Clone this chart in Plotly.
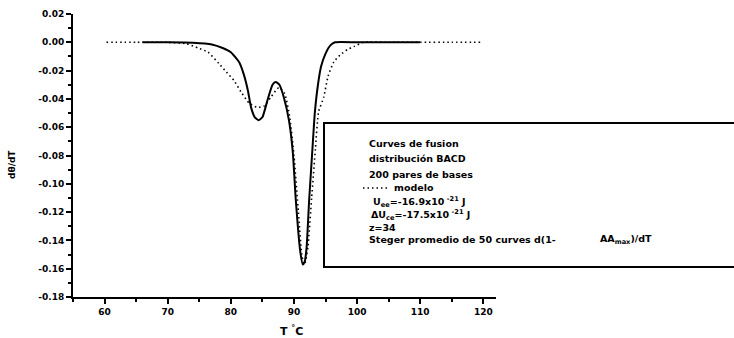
import plotly.graph_objects as go

# ---- data ----
t_steger = [66, 70, 74, 77, 78.7, 80, 81.3, 82, 82.7, 83.2, 83.8, 84.4, 85.0, 85.8, 86.6, 87.1, 87.7,
            88.4, 89.2, 89.8, 90.3, 91.0, 91.4, 91.7, 92.0, 92.4, 92.9, 93.3, 93.8, 94.3, 95.0, 95.8,
            96.5, 100, 105, 110]
v_steger = [0, 0, -0.0003, -0.0015, -0.004, -0.007, -0.014, -0.022, -0.034, -0.046, -0.053, -0.055,
            -0.053, -0.041, -0.030, -0.028, -0.030, -0.039, -0.055, -0.077, -0.112, -0.148, -0.157,
            -0.155, -0.145, -0.112, -0.077, -0.050, -0.030, -0.017, -0.008, -0.002, 0, 0, 0, 0]

t_modelo = [60.3, 65, 70, 73, 74.8, 76.4, 78.1, 79.3, 80.5, 81.6, 82.9, 84.2, 85.3, 86.3, 87.6, 88.5,
            89.3, 90.0, 90.7, 91.3, 91.7, 92.2, 92.8, 93.4, 93.9, 94.7, 95.4, 96.3, 97.3, 98.5, 99.5,
            101, 105, 110, 115, 119.6]
v_modelo = [0, 0, 0, -0.001, -0.004, -0.007, -0.015, -0.021, -0.027, -0.035, -0.043, -0.046, -0.045,
            -0.039, -0.032, -0.036, -0.052, -0.080, -0.120, -0.152, -0.157, -0.145, -0.110, -0.075,
            -0.049, -0.039, -0.024, -0.014, -0.009, -0.005, -0.003, 0, 0, 0, 0, 0]

x_ticks = [60, 70, 80, 90, 100, 110, 120]
x_ticklabels = ["60", "70", "80", "90", "100", "110", "120"]
y_ticks = [0.02, 0.00, -0.02, -0.04, -0.06, -0.08, -0.10, -0.12, -0.14, -0.16, -0.18]
y_ticklabels = ["0.02", "0.00", "-0.02", "-0.04", "-0.06", "-0.08", "-0.10", "-0.12", "-0.14",
                "-0.16", "-0.18"]

legend_lines = ["Curves de fusion", "distribución BACD", "200 pares de bases"]
legend_modelo = "modelo"
param_lines = ["U<sub>ee</sub>=-16.9x10<sup> -21</sup> J",
               "ΔU<sub>ce</sub>=-17.5x10<sup> -21</sup> J",
               "z=34"]
steger_text_a = "Steger promedio de 50 curves d(1-"
steger_text_b = "AA<sub>max</sub>)/dT"

# ---- layout geometry (pixels) ----
W, H = 734, 338
L, R, T, B = 73, 238, 14, 41
PW, PH = W - L - R, H - T - B


def px(x):
    return (x - L) / PW


def py(y):
    return (H - B - y) / PH


FONT = "DejaVu Sans"

fig = go.Figure()
fig.add_trace(go.Scatter(x=t_modelo, y=v_modelo, mode="lines",
                         line=dict(color="black", width=1.6, dash="1.5px,3px", shape="spline",
                                   smoothing=0.5),
                         showlegend=False, hoverinfo="skip"))
fig.add_trace(go.Scatter(x=t_steger, y=v_steger, mode="lines",
                         line=dict(color="black", width=2, shape="spline", smoothing=0.5),
                         showlegend=False, hoverinfo="skip"))

tickfont = dict(family=FONT, size=9, color="black", weight="bold")
fig.update_xaxes(range=[55, 122], tickvals=x_ticks, ticktext=x_ticklabels, showgrid=False,
                 zeroline=False, showline=True, linecolor="black", linewidth=2,
                 ticks="outside", ticklen=5, tickwidth=2, tickcolor="black", tickfont=tickfont,
                 minor=dict(dtick=5, ticks="outside", ticklen=3, tickwidth=1.5, tickcolor="black"))
fig.update_yaxes(range=[-0.18, 0.02], tickvals=y_ticks, ticktext=y_ticklabels, showgrid=False,
                 zeroline=False, showline=True, linecolor="black", linewidth=2,
                 ticks="outside", ticklen=5, tickwidth=2, tickcolor="black", tickfont=tickfont,
                 minor=dict(dtick=0.01, tick0=0, ticks="outside", ticklen=3, tickwidth=1.5,
                            tickcolor="black"))

shapes = [
    dict(type="rect", xref="paper", yref="paper", x0=px(324), x1=px(760), y0=py(267), y1=py(123),
         line=dict(color="black", width=2), fillcolor="rgba(0,0,0,0)"),
    dict(type="line", xref="paper", yref="paper", x0=px(363), x1=px(390), y0=py(188), y1=py(188),
         line=dict(color="black", width=1.4, dash="1.5px,3px")),
]

ann_font = dict(family=FONT, size=9.5, color="black", weight="bold")
annotations = []
for i, s in enumerate(legend_lines):
    annotations.append(dict(text=s, x=px(367), y=py(143 + i * 15.5)))
annotations.append(dict(text=legend_modelo, x=px(392), y=py(188)))
for s, xx, yy in zip(param_lines, [371, 369, 367], [202, 215, 227]):
    annotations.append(dict(text=s, x=px(xx), y=py(yy)))
annotations.append(dict(text=steger_text_a, x=px(367), y=py(239)))
annotations.append(dict(text=steger_text_b, x=px(598), y=py(239)))
for a in annotations:
    a.update(xref="paper", yref="paper", xanchor="left", yanchor="middle", showarrow=False,
             font=ann_font)

annotations.append(dict(text="T <sup>°</sup>C", x=px(291), y=py(330), xref="paper", yref="paper",
                        xanchor="center", yanchor="middle", showarrow=False,
                        font=dict(family=FONT, size=11, color="black", weight="bold")))
annotations.append(dict(text="dθ/dT", x=px(12), y=py(164), xref="paper", yref="paper",
                        xanchor="center", yanchor="middle", showarrow=False, textangle=-90,
                        font=dict(family=FONT, size=9, color="black", weight="bold")))

fig.update_layout(width=W, height=H, margin=dict(l=L, r=R, t=T, b=B, autoexpand=False),
                  paper_bgcolor="white", plot_bgcolor="white", showlegend=False,
                  shapes=shapes, annotations=annotations)

fig.write_html("out.html")
